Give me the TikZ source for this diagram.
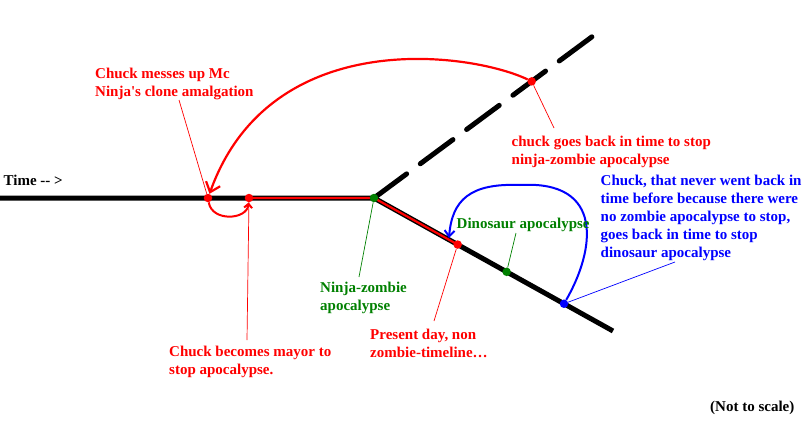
\documentclass[tikz,border=0pt]{standalone}
\usepackage{fontspec}
\setmainfont{Liberation Serif}[Ligatures=TeXOff]
\usepackage{tikz}
\usetikzlibrary{arrows.meta,calc}

\definecolor{penred}{RGB}{255,0,0}
\definecolor{pengreen}{RGB}{0,128,0}
\definecolor{penblue}{RGB}{0,0,255}

\begin{document}
\begin{tikzpicture}[x=1pt,y=-1pt,
    timeline/.style={line width=5pt,black},
    redtrack/.style={line width=2.2pt,penred},
    note/.style={font=\fontsize{15}{18}\selectfont\bfseries,align=left,inner sep=0pt,anchor=north west}]
            \useasboundingbox (0,0) rectangle (807,424);

            % the time lines
            \coordinate (tStart) at (0,198);
            \coordinate (split) at (374,198);
            \coordinate (lowEnd) at (613,331);
            \coordinate (upEnd) at (593,36);
            \coordinate (pMess) at (208,198);
            \coordinate (pMayor) at (249,198);
            \coordinate (pBack) at ($(split)!0.72!(upEnd)$);
            \coordinate (pPresent) at ($(split)!0.35!(lowEnd)$);
            \coordinate (pDino) at ($(split)!0.555!(lowEnd)$);
            \coordinate (pBlue) at ($(split)!0.795!(lowEnd)$);

            \draw [timeline] (tStart) -- (split) -- (lowEnd);
            \draw [timeline,line cap=round,dash pattern=on 40.6pt off 17pt] (split) -- (upEnd);
            \draw [redtrack] (pMayor) -- (split) -- (pPresent);

            % events
            \begin{scope}[every node/.style={circle,inner sep=0pt,minimum size=8.5pt}]
                \node [fill=penred] (mess) at (pMess) {};
                \node [fill=penred] (mayor) at (pMayor) {};
                \node [fill=pengreen] (nz) at (split) {};
                \node [fill=penred] (present) at (pPresent) {};
                \node [fill=pengreen] (dino) at (pDino) {};
                \node [fill=penblue] (bdot) at (pBlue) {};
                \node [fill=penred] (back) at (pBack) {};
            \end{scope}

            % trips back in time
            \coordinate (bTop) at (520,185);
            \coordinate (bTip) at (449,238);
            \draw [penred,line width=2.2pt,-{Straight Barb[length=9pt,width=15pt]}]
                (back) .. controls (470,52) and (270,25) .. (mess);
            \draw [penred,line width=2pt,-{Straight Barb[length=4pt,width=8pt]}]
                (mess) .. controls (212,222) and (247,220) .. (mayor);
            \draw [penblue,line width=2pt,-{Straight Barb[length=6pt,width=10pt]}]
                (bdot) .. controls (595,250) and (605,180) .. (bTop)
                .. controls (470,183) and (452,200) .. (bTip);

            % labels
            \node [note] (timeLbl) at (3.5,174.5) {Time -- >};
            \node [note,text=penred] (messLbl) at (95,67.5) {Chuck messes up Mc\\Ninja's clone amalgation};
            \node [note,text=penred] (backLbl) at (511.5,135.5) {chuck goes back in time to stop\\ninja-zombie apocalypse};
            \node [note,text=penblue] (blueLbl) at (600.5,174.5) {Chuck, that never went back in\\time before because there were\\no zombie apocalypse to stop,\\goes back in time to stop\\dinosaur apocalypse};
            \node [note,text=pengreen] (dinoLbl) at (456.5,218) {Dinosaur apocalypse};
            \node [note,text=pengreen] (nzLbl) at (320,281.5) {Ninja-zombie\\apocalypse};
            \node [note,text=penred] (presentLbl) at (370,329) {Present day, non\\zombie-timeline…};
            \node [note,text=penred] (mayorLbl) at (169,345.5) {Chuck becomes mayor to\\stop apocalypse.};
            \node [note,anchor=base west] (scaleLbl) at (710,411) {(Not to scale)};

            % pointers
            \coordinate (messEnd) at (179,100);
            \coordinate (backEnd) at (554,128);
            \coordinate (blueEnd) at (675,262);
            \coordinate (dinoEnd) at (516,233);
            \coordinate (nzEnd) at (359,277);
            \coordinate (presentEnd) at (434,321);
            \coordinate (mayorEnd) at (247,340);
            \begin{scope}[every edge/.style={draw,line width=0.7pt}]
                \path [penred] (messEnd) edge (mess);
                \path [penred] (back) edge (backEnd);
                \path [penblue] (bdot) edge (blueEnd);
                \path [pengreen] (dino) edge (dinoEnd);
                \path [pengreen] (nz) edge (nzEnd);
                \path [penred] (present) edge (presentEnd);
                \path [penred] (mayorEnd) edge (mayor);
            \end{scope}
\end{tikzpicture}
\end{document}
